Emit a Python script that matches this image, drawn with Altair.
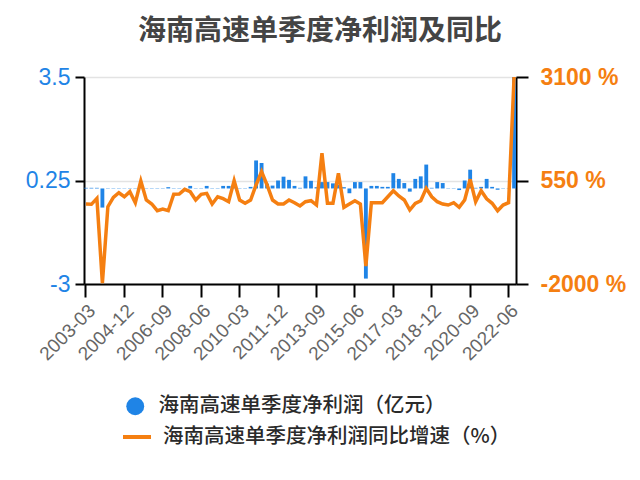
import altair as alt
import pandas as pd

TITLE = "海南高速单季度净利润及同比"
NAME_BAR = "海南高速单季度净利润（亿元）"
NAME_LINE = "海南高速单季度净利润同比增速（%）"

# quarters 2003-03 .. 2022-09
quarters = []
for y in range(2003, 2023):
    for m in ("03", "06", "09", "12"):
        quarters.append(f"{y}-{m}")
quarters = quarters[:79]

profit = [0.02, 0.02, 0.02, -0.6, 0.01, 0.01, 0.01, 0.01, 0.01, 0.01,
          0.01, 0.01, 0.01, 0.01, 0.01, 0.04, 0.01, 0.01, 0.01, 0.08,
          0.01, 0.01, 0.08, 0.01, 0.01, 0.08, 0.08, 0.15, 0.01, 0.01,
          0.05, 0.88, 0.8, 0.15, 0.09, 0.25, 0.37, 0.27, 0.08, 0.02,
          0.38, 0.24, 0.04, 0.2, 0.2, 0.16, 0.12, 0.04, -0.15, 0.2,
          0.2, -2.83, 0.08, 0.08, 0.05, 0.05, 0.48, 0.3, 0.17, -0.1,
          0.3, 0.38, 0.75, 0.02, 0.2, 0.17, 0.01, 0.01, -0.05, 0.25,
          0.59, 0.02, 0.05, 0.3, 0.05, -0.04, 0.01, 0.01, 3.5]

growth = [-30, -37, 110, -1980, -96, 136, 249, 150, 274, 3,
          537, 69, -29, -194, -153, -194, 210, 217, 333, 274,
          69, 210, 234, -29, 150, 101, 27, 545, 69, -12,
          69, 439, 767, 439, 69, -29, -29, 69, 3, -78,
          27, 52, -54, 1220, -12, -12, 727, -111, -29, 52,
          -29, -1560, 3, 3, 3, 150, 298, 168, 69, -177,
          -12, 52, 357, 150, 27, -29, -54, 3, -111, 69,
          579, 27, 298, 101, -12, -194, -54, 3, 3100]

left_ticks = [-3, 0.25, 3.5]
right_ticks = [-2000, 550, 3100]
label_quarters = quarters[::7]

BLUE = "#1f84e6"
ORANGE = "#f57f11"
FONT = "Noto Sans CJK SC"
NUMFONT = "Liberation Sans"

df = pd.DataFrame({"q": quarters, "profit": profit, "growth": growth,
                   "s1": NAME_BAR, "s2": NAME_LINE})

x = alt.X("q:O", sort=None,
          scale=alt.Scale(paddingInner=0.3, paddingOuter=0.0),
          axis=alt.Axis(title=None, values=label_quarters, labelAngle=-45,
                        labelAlign="right", labelBaseline="top",
                        labelColor="#666666", labelFontSize=19, labelFont=NUMFONT,
                        tickColor="#000000", tickSize=13, tickWidth=2,
                        domainColor="#000000", domainWidth=2, labelPadding=4))

bars = alt.Chart(df).mark_bar().encode(
    x=x,
    y=alt.Y("profit:Q",
            scale=alt.Scale(domain=[-3, 3.5], nice=False, zero=False),
            axis=alt.Axis(title=None, values=left_ticks, orient="left",
                          labelExpr="datum.value + ''",
                          labelColor=BLUE, labelFontSize=23, labelFont=NUMFONT,
                          tickColor="#000000", tickSize=9, tickWidth=2,
                          domainColor="#000000", domainWidth=2, labelPadding=5,
                          grid=True, gridColor="#e3e3e3", gridWidth=1.5)),
    color=alt.Color("s1:N",
                    scale=alt.Scale(domain=[NAME_BAR], range=[BLUE]),
                    legend=alt.Legend(title=None, orient="none", legendX=41, legendY=319,
                                      symbolType="circle", symbolSize=320,
                                      symbolStrokeWidth=0, symbolOpacity=1,
                                      labelFont=FONT, labelFontSize=20.5, labelLimit=0,
                                      labelColor="#2a2a2a", labelFontWeight=500,
                                      labelOffset=13, padding=0)),
)

line = alt.Chart(df).mark_line(strokeWidth=3.5).encode(
    x=x,
    y=alt.Y("growth:Q",
            scale=alt.Scale(domain=[-2000, 3100], nice=False, zero=False),
            axis=alt.Axis(title=None, values=right_ticks, orient="right",
                          labelColor=ORANGE, labelFontSize=23, labelFont=NUMFONT,
                          labelFontWeight="bold",
                          labelExpr="datum.value + ' %'",
                          tickColor="#000000", tickSize=12, tickWidth=2,
                          domainColor="#000000", domainWidth=2, labelPadding=12,
                          grid=False)),
    stroke=alt.Stroke("s2:N",
                      scale=alt.Scale(domain=[NAME_LINE], range=[ORANGE]),
                      legend=alt.Legend(title=None, orient="none", legendX=37, legendY=344,
                                        symbolType="stroke", symbolSize=784,
                                        symbolStrokeWidth=4,
                                        labelFont=FONT, labelFontSize=20.5, labelLimit=0,
                                        labelColor="#2a2a2a", labelFontWeight=500,
                                        labelOffset=10, padding=0)),
)

chart = alt.layer(bars, line).resolve_scale(
    y="independent", color="independent", stroke="independent"
).properties(
    width=432, height=207,
    title=alt.TitleParams(TITLE, font=FONT, fontSize=28, fontWeight="bold",
                          color="#444444", anchor="middle", offset=20, dx=20),
    autosize=alt.AutoSizeParams(type="none"),
    padding={"left": 76, "top": 69, "right": 116, "bottom": 180},
).configure_view(strokeWidth=0)

chart.save("out.html", embed_options={"renderer": "svg", "actions": False})
